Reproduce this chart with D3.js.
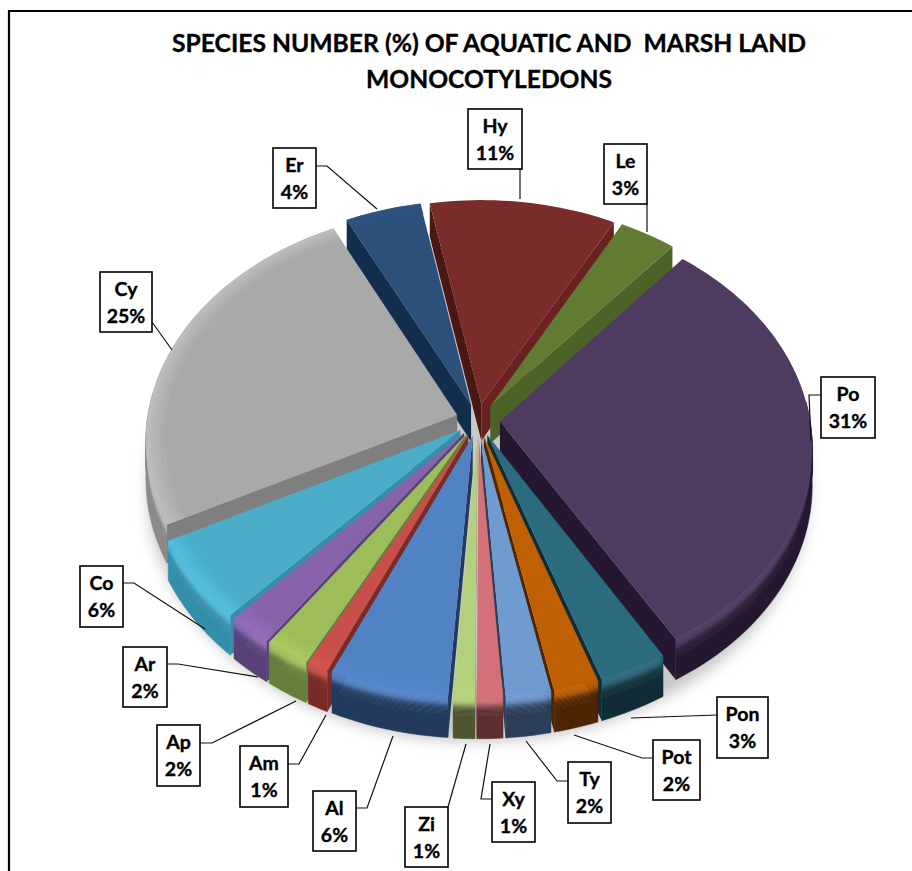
<!DOCTYPE html>
<html>
<head>
<meta charset="utf-8">
<script src="https://cdn.jsdelivr.net/npm/d3@7"></script>
<style>
html,body{margin:0;padding:0;background:#fff;overflow:hidden}
svg{display:block}
text{font-family:Lato,"Open Sans",sans-serif;font-weight:700;fill:#000;stroke:#000;stroke-width:0.35px;white-space:pre}
</style>
</head>
<body>
<script>
// ---- data -----
const categories = ["Po","Pon","Pot","Ty","Xy","Zi","Al","Am","Ap","Ar","Co","Cy","Er","Hy","Le"];
const percentValues = [30.5,3.2,2.1,2.1,1.2,1,5.55,1,2.1,2.1,5.65,25.3,4.4,10.8,3.3];
const titleLines = ["SPECIES NUMBER (%) OF AQUATIC AND  MARSH LAND","MONOCOTYLEDONS"];

// ---- styles -----
const topColors  = ["#4f3a60","#2a6b7e","#c06005","#6f9bd0","#d3707a","#b4d07c","#5182c4","#c9504a","#9dbd5a","#8764aa","#4badc8","#a9a9a9","#2d507b","#7a2c2a","#617c32"];
const wallColors = ["#24172f","#102d36","#4d2500","#2d3f58","#5e2f30","#4d5530","#213a5d","#7a2a28","#64803a","#5a4078","#338fa9","#8a8a8a","#132e4c","#4a1712","#4c6328"];
const innerEndColors = {Hy:"#6a2220"};
const innerStartColors = {Cy:"#7f7f7f"};

// ---- layout -----
const W = 912, H = 871;
const labelBoxes = {
  Po:[821,377,54,61], Pon:[717,697,51,61], Pot:[653,740,47,60], Ty:[568,762,43,61], Xy:[492,782,43,60],
  Zi:[405,807,43,60], Al:[313,791,43,60], Am:[240,746,48,61], Ap:[157,725,43,61], Ar:[123,647,44,60],
  Co:[80,566,43,61], Cy:[100,272,52,60], Er:[273,148,43,60], Hy:[468,109,54,60], Le:[604,144,43,60]
};
const leaders = {
  Po:[[821,395],[809,395],[811,441]], Pon:[[717,715],[631,718]], Pot:[[653,758],[642,758],[574,735]],
  Ty:[[568,781],[557,781],[526,741]], Xy:[[492,799],[481,799],[490,744]], Zi:[[448,807],[466,744]],
  Al:[[356,808],[367,808],[393,736]], Am:[[288,764],[299,764],[326,715]], Ap:[[200,743],[212,743],[296,701]],
  Ar:[[167,664],[178,664],[258,677]], Co:[[123,583],[134,583],[205,629]], Cy:[[152,322],[172,350]],
  Er:[[316,166],[327,166],[377,209]], Hy:[[520,169],[520,199]], Le:[[647,204],[647,232]]
};
const cx=478, cy=420, Rx=310, Ry=229, wallH=37, persp=0.107, explode=0.071;

const svg = d3.select("body").append("svg").attr("width",W).attr("height",H);
const defs = svg.append("defs");
defs.append("filter").attr("id","soft").attr("x","-20%").attr("y","-20%").attr("width","140%").attr("height","140%")
  .append("feGaussianBlur").attr("stdDeviation",7);

svg.append("path").attr("d",d3.line()([[9,871],[9,11],[912,11]])).attr("fill","none").attr("stroke","#000").attr("stroke-width",2.2);

svg.append("g").selectAll("text").data(titleLines).join("text")
  .attr("x",489).attr("y",(d,i)=>52+i*36).attr("text-anchor","middle")
  .attr("font-size",25.5).text(d=>d).attr("textLength",(d,i)=>i?246:634).attr("lengthAdjust","spacingAndGlyphs");

// projection of a pie-space point onto the page
function proj(X,Y,Z){
  const s = 1/(1+persp*Y);
  return [cx+Rx*X*s, cy-Ry*Y*s+wallH*(1-Z)*s];
}
const line = d3.line();
const pie = d3.pie().sort(null).value(d=>d).startAngle(40*Math.PI/180).endAngle((40+360)*Math.PI/180);
const arcs = pie(percentValues).map((a,i)=>{
  const mid=(a.startAngle+a.endAngle)/2;
  return {i,name:categories[i],a0:a.startAngle,a1:a.endAngle,mid,
    ox:explode*Math.sin(mid),oy:explode*Math.cos(mid)};
});
function pt(d,a,r,z){return proj(d.ox+r*Math.sin(a),d.oy+r*Math.cos(a),z);}
function rimAngles(d){
  const n=Math.max(2,Math.ceil((d.a1-d.a0)/(1.5*Math.PI/180)));
  return d3.range(n+1).map(k=>d.a0+(d.a1-d.a0)*k/n);
}
// only the part of the rim that faces the viewer has a visible outer wall
function frontAngles(d){return rimAngles(d).filter(a=>Math.cos(a)<0.1);}
function bandPath(d,z0,z1){
  const as=frontAngles(d);
  return line(as.map(a=>pt(d,a,1,z0)).concat(as.slice().reverse().map(a=>pt(d,a,1,z1))))+"Z";
}
function ringPath(d,r0,r1,z){
  const as=rimAngles(d);
  return line(as.map(a=>pt(d,a,r0,z)).concat(as.slice().reverse().map(a=>pt(d,a,r1,z))))+"Z";
}
function sidePath(d,a){
  return line([pt(d,a,0,1),pt(d,a,1,1),pt(d,a,1,0),pt(d,a,0,0)])+"Z";
}
function topPath(d){
  return line([pt(d,d.a0,0,1)].concat(rimAngles(d).map(a=>pt(d,a,1,1))))+"Z";
}

// soft ground shadow
const circle=d3.range(0,361,3).map(a=>a*Math.PI/180);
svg.append("path")
  .attr("d",line(circle.map(a=>proj(1.06*Math.sin(a),1.06*Math.cos(a),-0.15)))+"Z")
  .attr("fill","#c8c8c8").attr("filter","url(#soft)");

// painter's order: back to front
const order = arcs.slice().sort((p,q)=>d3.descending(p.oy,q.oy));
const steps=d3.range(17).map(k=>1-k*0.45/16);
order.forEach(d=>{
  const g=svg.append("g").attr("class","slice").attr("data-name",d.name);
  const top=topColors[d.i], wall=wallColors[d.i];
  const leftness=Math.max(0,-Math.sin(d.mid)+0.1);
  const hi=d3.color(top).brighter(0.28*leftness).formatHex();
  if(frontAngles(d).length>1){
    g.append("path").attr("d",bandPath(d,0.55,0)).attr("fill",wall).attr("stroke",wall).attr("stroke-width",0.5);
    const mix=d3.interpolateRgb(hi,wall);
    steps.slice(0,-1).forEach((z,k)=>{
      const t=d3.easeCubicInOut((k+0.5)/(steps.length-1));
      g.append("path").attr("d",bandPath(d,z,steps[k+1]))
        .attr("fill",mix(t)).attr("stroke",mix(t)).attr("stroke-width",0.5);
    });
  }
  if(Math.sin(d.a0)<0) g.append("path").attr("d",sidePath(d,d.a0)).attr("fill",innerStartColors[d.name]||wall);
  if(Math.sin(d.a1)>0) g.append("path").attr("d",sidePath(d,d.a1)).attr("fill",innerEndColors[d.name]||wall);
  g.append("path").attr("d",topPath(d)).attr("fill",top);
  if(leftness>0){
    const blend=d3.interpolateRgb(top,hi);
    [[0.94,0.955,0.2],[0.955,0.97,0.45],[0.97,0.985,0.75],[0.985,1,1]].forEach(r=>{
      g.append("path").attr("d",ringPath(d,r[0],r[1],1)).attr("fill",blend(r[2])).attr("stroke",blend(r[2])).attr("stroke-width",0.3);
    });
  }
});

// labels
const labelG=svg.append("g");
arcs.forEach((d,i)=>{
  const b=labelBoxes[d.name];
  labelG.append("path").attr("d",line(leaders[d.name])).attr("fill","none").attr("stroke","#111").attr("stroke-width",1.2);
  labelG.append("rect").attr("x",b[0]).attr("y",b[1]).attr("width",b[2]).attr("height",b[3])
    .attr("fill","#fff").attr("stroke","#000").attr("stroke-width",1.6);
  labelG.append("text").attr("x",b[0]+b[2]/2).attr("y",b[1]+24).attr("text-anchor","middle").attr("font-size",19.5).text(d.name);
  labelG.append("text").attr("x",b[0]+b[2]/2).attr("y",b[1]+51).attr("text-anchor","middle").attr("font-size",19.5)
    .text(d3.format(".0f")(percentValues[i])+"%");
});
</script>
</body>
</html>
